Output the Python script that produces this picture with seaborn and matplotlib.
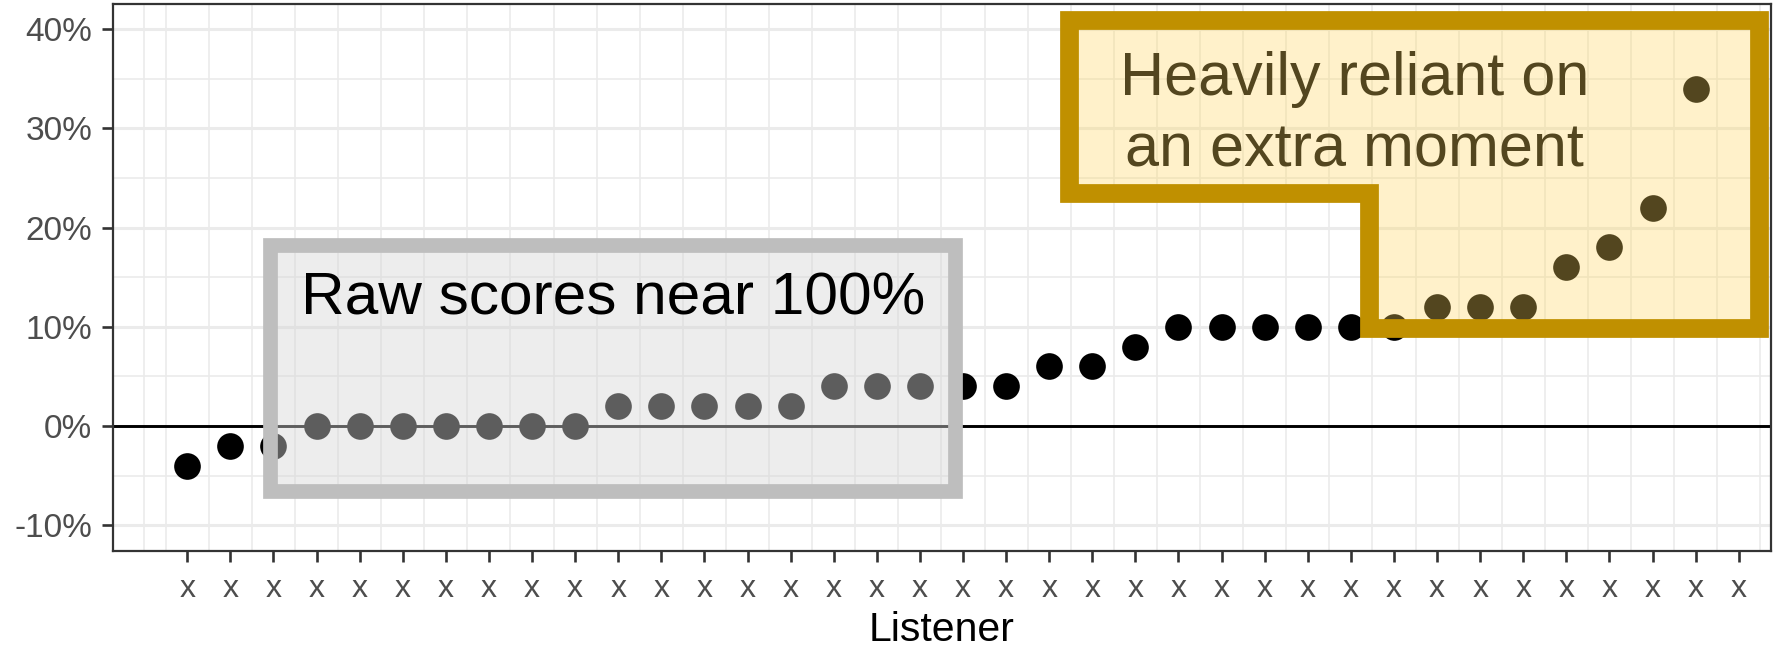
import numpy as np
import pandas as pd
import matplotlib
matplotlib.use("Agg")
import matplotlib.pyplot as plt
from matplotlib.patches import Rectangle, Polygon
from matplotlib.ticker import FixedLocator, FuncFormatter
import seaborn as sns

# data: benefit of an extra moment per listener (%), sorted; last listener has no value
listeners = [f"L{i}" for i in range(1, 38)]
benefit = [-4, -2, -2, 0, 0, 0, 0, 0, 0, 0, 2, 2, 2, 2, 2, 4, 4, 4, 4, 4,
           6, 6, 8, 10, 10, 10, 10, 10, 10, 12, 12, 12, 16, 18, 22, 34, np.nan]
tick_labels = ["x"] * len(listeners)
y_breaks = [-10, 0, 10, 20, 30, 40]
y_minor = [-5, 5, 15, 25, 35]

raw_label = "Raw scores near 100%"
heavy_lines = ["Heavily reliant on", "an extra moment"]

df = pd.DataFrame({"listener": listeners, "benefit": benefit})

sns.set_style("white")
plt.rcParams["font.family"] = ["Liberation Sans", "DejaVu Sans"]

fig = plt.figure(figsize=(17.86, 6.51), dpi=100)
ax = fig.add_axes([0.0631, 0.1531, 0.9283, 0.8408])

# grid
grid_col = "#EBEBEB"
ax.set_axisbelow(True)
ax.xaxis.set_minor_locator(FixedLocator(np.arange(-1, 37, 1.0) + 0.5))
ax.yaxis.set_minor_locator(FixedLocator(y_minor))
ax.grid(True, which="major", color=grid_col, linewidth=2.2, zorder=0)
ax.grid(True, which="minor", color=grid_col, linewidth=1.2, zorder=0)
ax.axvline(-1, color=grid_col, linewidth=1.2, zorder=0)

ax.axhline(0, color="black", linewidth=2.1, zorder=1)

sns.stripplot(data=df, x="listener", y="benefit", order=listeners, jitter=False,
              color="black", size=19.2, linewidth=0, ax=ax, zorder=2)

ax.set_xlim(-1.73, 36.74)
ax.set_ylim(-12.62, 42.52)
ax.set_yticks(y_breaks)
ax.yaxis.set_major_formatter(FuncFormatter(lambda v, p: f"{v:.0f}%"))
ax.set_xticks(range(len(listeners)))
ax.set_xticklabels(tick_labels)
ax.tick_params(axis="both", which="major", labelcolor="#4D4D4D",
               color="#333333", length=7.6, width=1.9, pad=6,
               bottom=True, left=True)
ax.tick_params(axis="y", which="major", labelsize=24, pad=7)
ax.tick_params(axis="x", which="major", labelsize=23, pad=9)
ax.tick_params(axis="both", which="minor", length=0)
ax.set_xlabel("Listener", fontsize=29.5, color="black", labelpad=5)
ax.set_ylabel("")

for s in ax.spines.values():
    s.set_color("#333333")
    s.set_linewidth(1.6)
    s.set_zorder(6)

# grey callout
ax.add_patch(Rectangle((1.92, -6.5), 17.82 - 1.92, 18.2 + 6.5,
                       facecolor=(214 / 255, 214 / 255, 214 / 255, 0.44),
                       edgecolor="#BEBEBE", linewidth=10.6, joinstyle="miter", zorder=3))
ax.text(2.63, 11.28, raw_label, fontsize=43.5, color="black", ha="left",
        va="baseline", zorder=4)

# gold callout (text drawn under the translucent fill)
ax.text(27.08, 33.35, heavy_lines[0], fontsize=44, color="black", ha="center",
        va="baseline", zorder=2.5)
ax.text(27.08, 26.13, heavy_lines[1], fontsize=44, color="black", ha="center",
        va="baseline", zorder=2.5)
gold_shape = [(20.47, 40.86), (36.46, 40.86), (36.46, 9.89), (27.41, 9.89),
              (27.41, 23.46), (20.47, 23.46)]
ax.add_patch(Polygon(gold_shape, closed=True,
                     facecolor=(1.0, 214 / 255, 95 / 255, 0.33),
                     edgecolor="#C09000", linewidth=13.5, joinstyle="miter", zorder=3))

fig.savefig("out.png", dpi=100)
